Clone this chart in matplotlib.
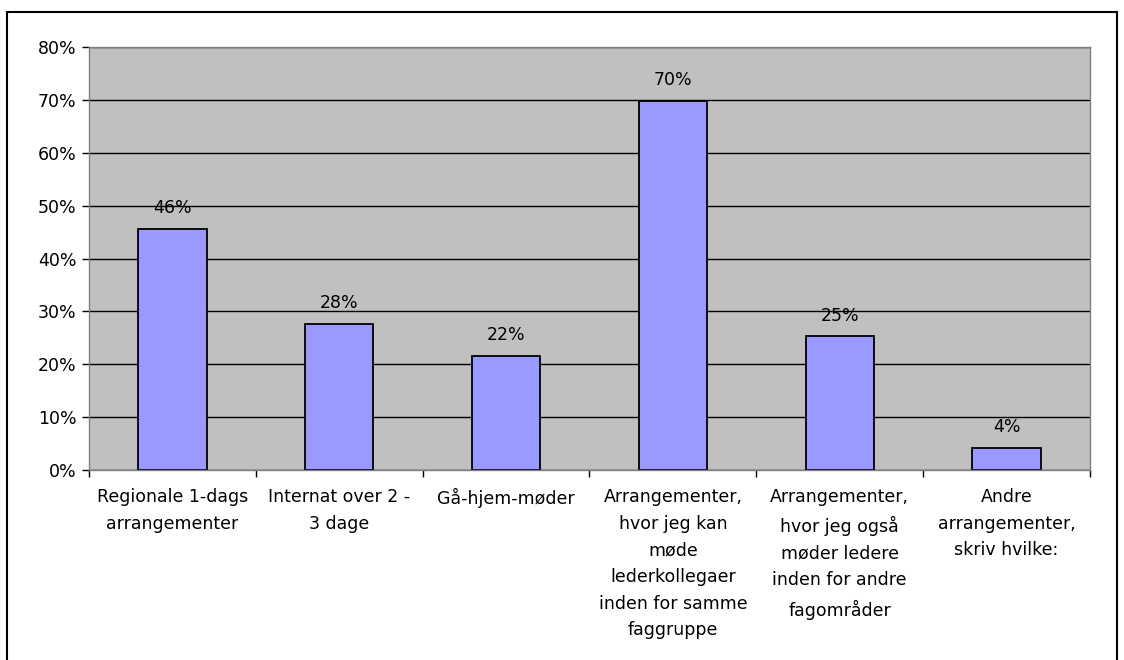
import matplotlib.pyplot as plt
from matplotlib.patches import Rectangle
from matplotlib.ticker import FixedLocator, NullFormatter

plt.rcParams['font.family'] = ['DejaVu Sans']

categories = [
    "Regionale 1-dags\narrangementer",
    "Internat over 2 -\n3 dage",
    "Gå-hjem-møder",
    "Arrangementer,\nhvor jeg kan\nmøde\nlederkollegaer\ninden for samme\nfaggruppe",
    "Arrangementer,\nhvor jeg også\nmøder ledere\ninden for andre\nfagområder",
    "Andre\narrangementer,\nskriv hvilke:",
]
values = [0.456, 0.276, 0.216, 0.698, 0.253, 0.042]
yticks = [0.0, 0.1, 0.2, 0.3, 0.4, 0.5, 0.6, 0.7, 0.8]

FS = 12.5

W, H = 1124, 660
fig = plt.figure(figsize=(W / 100, H / 100), dpi=100)
ax = fig.add_axes([89 / W, 1 - 470 / H, (1090 - 89) / W, (470 - 47) / H])
ax.set_facecolor("#C0C0C0")

x = list(range(len(values)))
ax.set_axisbelow(True)
ax.yaxis.grid(True, color="black", linewidth=1)
ax.bar(x, values, width=0.41, color="#9999FF", edgecolor="black", linewidth=1.3, zorder=2)

for xi, v in zip(x, values):
    ax.text(xi, v + 0.022, f"{round(v * 100):.0f}%", ha="center", va="bottom", fontsize=FS)

ax.set_xlim(-0.5, len(values) - 0.5)
ax.set_ylim(0, 0.8)
ax.set_yticks(yticks)
ax.set_yticklabels([f"{round(t * 100)}%" for t in yticks], fontsize=FS)

ax.set_xticks(x)
ax.set_xticklabels(categories, fontsize=FS, linespacing=1.62)
ax.tick_params(axis="x", length=0, pad=13)
ax.xaxis.set_minor_locator(FixedLocator([i - 0.5 for i in range(len(values) + 1)]))
ax.xaxis.set_minor_formatter(NullFormatter())
ax.tick_params(axis="x", which="minor", length=5, width=1, color="black")
ax.tick_params(axis="y", length=5, width=1, pad=4)

for side in ax.spines:
    ax.spines[side].set_color("#808080")
    ax.spines[side].set_linewidth(1)

fig.patches.append(Rectangle((7 / W, -0.02), (1117 - 7) / W, 1 - 12 / H + 0.02,
                             transform=fig.transFigure, fill=False,
                             edgecolor="black", linewidth=1.5))

fig.savefig("out.png", dpi=100)
